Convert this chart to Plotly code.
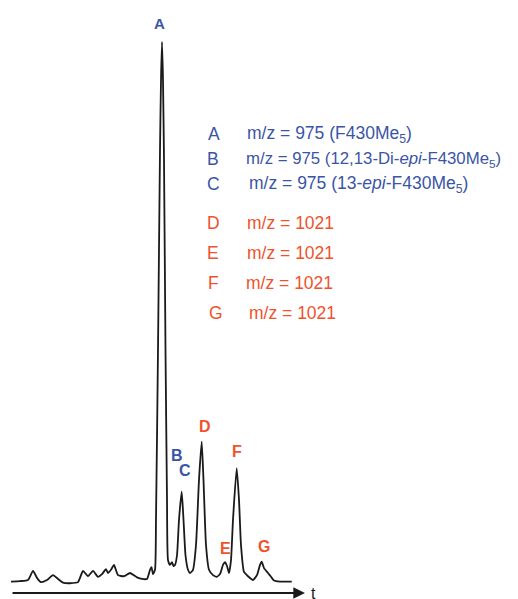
import plotly.graph_objects as go

# Chromatogram trace (time in arbitrary units, intensity in % of peak A)
time = [0, 9, 17, 22, 26, 30, 36, 42, 47, 52, 59, 67, 72, 77, 82, 87, 91, 95, 97, 100,
        103, 107, 113, 119, 126, 131, 136, 139, 140.5, 142, 144, 145, 147, 149, 150, 151,
        152, 153, 154.5, 156, 157, 159, 161, 162.5, 164, 166, 168, 170.7, 172.5, 174.5,
        177, 179, 182, 185, 188, 190.7, 192.5, 195, 198, 202, 205.7, 209, 212, 214, 216,
        218, 220, 222, 225.7, 228, 230, 233, 237, 242, 246, 249, 250.7, 253, 257, 260,
        263, 269, 280.7]
intensity = [-0.3, -0.2, 0.0, 1.7, 0.4, -0.4, 0.0, 0.9, 0.2, -0.5, -0.6, -0.4, 1.7, 0.7,
             1.7, 0.6, 1.1, 2.0, 1.3, 1.9, 2.8, 0.9, 0.7, 1.3, 0.5, 0.2, 0.2, 1.9, 2.4, 1.1,
             1.9, 11.2, 42.8, 79.9, 92.9, 100.0, 92.9, 78.1, 42.8, 14.9, 3.7, 2.8, 3.3, 2.6,
             2.8, 4.6, 11.2, 16.4, 11.2, 4.6, 1.9, 1.3, 1.9, 6.5, 18.6, 25.7, 18.6, 6.5, 1.9,
             0.9, 0.6, 1.1, 2.8, 3.3, 2.6, 1.3, 3.7, 11.2, 20.8, 14.9, 6.5, 1.5, 0.7, 0.0,
             0.9, 2.8, 3.4, 2.2, 1.3, 0.6, -0.1, -0.3, -0.3]

# Peak labels
peak_names = ["A", "B", "C", "D", "E", "F", "G"]
peak_time = [148, 166, 173.5, 194, 214, 226, 253]
peak_label_int = [103.5, 23.2, 20.3, 28.6, 5.9, 23.8, 6.3]
peak_group = ["975", "975", "975", "1021", "1021", "1021", "1021"]

# Legend lines
legend_letters = ["A", "B", "C", "D", "E", "F", "G"]
legend_texts = [
    "m/z = 975 (F430Me<sub>5</sub>)",
    "m/z = 975 (12,13-Di-<i>epi</i>-F430Me<sub>5</sub>)",
    "m/z = 975 (13-<i>epi</i>-F430Me<sub>5</sub>)",
    "m/z = 1021",
    "m/z = 1021",
    "m/z = 1021",
    "m/z = 1021",
]

BLUE = "#3a55a6"
RED = "#f0522c"
FONT = "Liberation Sans, Arial, sans-serif"

assert len(time) == len(intensity)

# The page body has an 8px margin; the figure is sized to fit the window.
W, H, OFF = 510, 591, 8
PX_PER_UNIT = 5.38
Y_TOP = (580 - OFF) / PX_PER_UNIT
Y_BOT = Y_TOP - H / PX_PER_UNIT
X_LEFT = -(11 - OFF)


def ypix(py):
    """Intensity value that sits at page pixel row py."""
    return Y_TOP - (py - OFF) / PX_PER_UNIT


fig = go.Figure()
fig.add_trace(go.Scatter(x=time, y=intensity, mode="lines",
                         line=dict(color="#1a1a1a", width=1.8, shape="spline", smoothing=0.5),
                         hoverinfo="skip", showlegend=False))

annotations = []
for n, t, yi, g in zip(peak_names, peak_time, peak_label_int, peak_group):
    annotations.append(dict(x=t, y=yi, text=f"<b>{n}</b>", showarrow=False,
                            font=dict(family=FONT, size=15 if n == "A" else 16,
                                      color=BLUE if g == "975" else RED),
                            xanchor="center", yanchor="middle"))

legend_y = [134, 159, 184, 223, 253, 283, 313]
legend_letter_x = [214, 213, 213, 213, 213, 213, 216]
legend_text_x = [245, 244, 247, 245, 245, 244, 247]
legend_size = [17.5, 16.8, 17.5, 17.5, 17.5, 17.5, 17.5]
for i, (l, txt) in enumerate(zip(legend_letters, legend_texts)):
    col = BLUE if i < 3 else RED
    annotations.append(dict(x=legend_letter_x[i] - 11, y=ypix(legend_y[i]), text=l,
                            showarrow=False, xanchor="center", yanchor="middle",
                            font=dict(family=FONT, size=17.5, color=col)))
    annotations.append(dict(x=legend_text_x[i] - 11, y=ypix(legend_y[i]), text=txt,
                            showarrow=False, xanchor="left", yanchor="middle",
                            font=dict(family=FONT, size=legend_size[i], color=col)))

# time axis arrow
annotations.append(dict(x=294, y=ypix(593), ax=0, ay=ypix(593), xref="x", yref="y",
                        axref="x", ayref="y", showarrow=True, arrowhead=2, arrowsize=1.3,
                        arrowwidth=1.8, arrowcolor="#1a1a1a", text=""))
annotations.append(dict(x=302, y=ypix(593), text="t", showarrow=False,
                        xanchor="center", yanchor="middle", height=12, borderpad=0,
                        valign="middle",
                        font=dict(family=FONT, size=16, color="#1a1a1a")))

fig.update_layout(
    width=W, height=H,
    margin=dict(l=0, r=0, t=0, b=0),
    paper_bgcolor="white", plot_bgcolor="white",
    xaxis=dict(range=[X_LEFT, X_LEFT + W], visible=False, fixedrange=True),
    yaxis=dict(range=[Y_BOT, Y_TOP], visible=False, fixedrange=True),
    annotations=annotations,
    showlegend=False,
)

fig.write_html("out.html")
